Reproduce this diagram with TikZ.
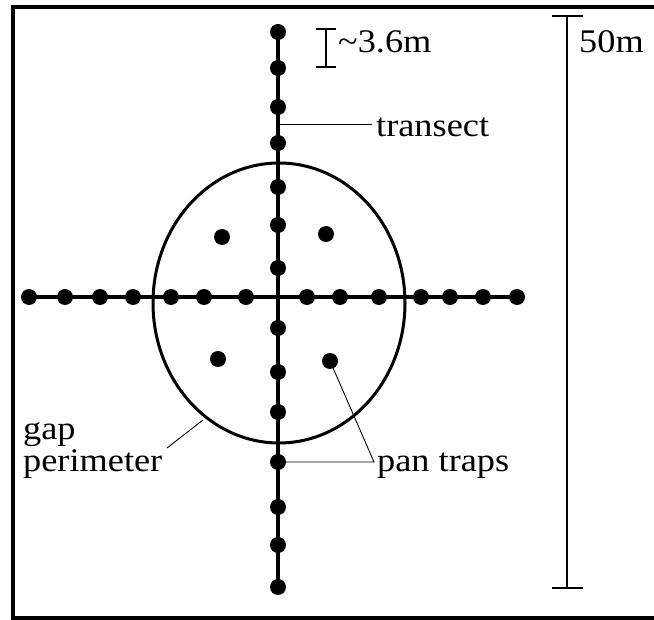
\documentclass[tikz,border=0pt]{standalone}
\usepackage{fontspec}
\setmainfont[FakeStretch=1.1]{Liberation Serif}
\usetikzlibrary{backgrounds}
\begin{document}
\begin{tikzpicture}[x=1pt,y=-1pt,
  dot/.style={circle,fill=black,inner sep=0pt,minimum size=16pt},
  lbl/.style={inner sep=0pt,anchor=base west,font=\fontsize{33}{36}\selectfont},
  transline/.style={line width=3.2pt},
  leader/.style={line width=0.9pt},
  scalebar/.style={line width=1.3pt}]
\useasboundingbox (0,0) rectangle (654,620);
% frame
\draw[line width=3.5pt] (660,7) -- (13,7) -- (13,618) -- (660,618);
% traps
\foreach \y [count=\i] in {32,68,107,143,187,225,268,328,372,412,462,507,545,587}
  \node[dot] (v\i) at (278,\y) {};
\foreach \x [count=\i] in {29,65,100,133,171,204,246,307,340,379,421,450,483,517}
  \node[dot] (h\i) at (\x,297) {};
\node[dot] (p1) at (222,237) {};
\node[dot] (p2) at (326,234) {};
\node[dot] (p3) at (218,359) {};
\node[dot] (p4) at (330,361) {};
% labels
\node[lbl] (tr) at (376,137) {transect};
\node[lbl] (pt) at (377,472) {pan traps};
\node[lbl] (gap) at (23,440) {gap};
\node[lbl] (per) at (23,472) {perimeter};
\node[lbl] (s36) at (338,53) {\textasciitilde3.6m};
\node[lbl] (s50) at (579,53) {50m};
\coordinate (tp) at (278,124);
\coordinate (pc) at (374,462);
\coordinate (gs) at (167,448);
\coordinate (ge) at (203,420);
\begin{scope}[on background layer]
  \draw[transline] (v1.center) -- (v14.center);
  \draw[transline] (h1.center) -- (h14.center);
  \draw[line width=3pt] (279,303) ellipse [x radius=126pt, y radius=140pt];
  \draw[leader] (tp) -- ([xshift=-4pt]tp -| tr.west);
  \draw[leader] (v11.center) -- (pc) -- (p4.center);
  \draw[leader] (gs) -- (ge);
\end{scope}
% scale bars
\draw[scalebar] (316,29) -- (336,29) (326,29) -- (326,67) (316,67) -- (336,67);
\draw[scalebar] (552,16) -- (583,16) (567,16) -- (567,588) (552,588) -- (583,588);
\end{tikzpicture}
\end{document}
